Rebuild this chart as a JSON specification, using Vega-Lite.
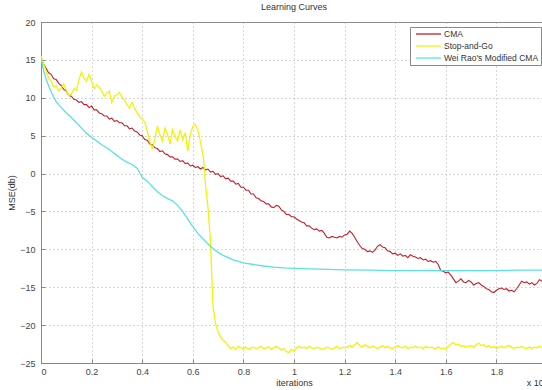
{
  "$schema": "https://vega.github.io/schema/vega-lite/v6.json",
  "width": 506,
  "height": 341,
  "autosize": {"type": "none"},
  "padding": {"left": 41, "top": 22, "right": 0, "bottom": 27},
  "background": "white",
  "title": {"text": "Learning Curves", "fontSize": 9, "fontWeight": "normal", "font": "Liberation Sans", "color": "#333", "offset": 6},
  "datasets": {
    "cma": [
      [0.00,15.3],[0.01,14.5],[0.02,13.9],[0.03,13.3],[0.04,13.1],[0.05,12.5],[0.06,12.4],[0.07,11.9],[0.08,11.6],[0.09,11.1],
      [0.10,10.9],[0.11,10.3],[0.12,10.2],[0.13,9.8],[0.14,9.7],[0.15,9.4],[0.16,9.5],[0.17,9.1],[0.18,9.1],[0.19,8.7],
      [0.20,8.9],[0.21,8.4],[0.22,8.4],[0.23,8.0],[0.24,7.9],[0.25,7.6],[0.26,7.6],[0.27,7.2],[0.28,7.3],[0.29,6.9],
      [0.30,7.0],[0.31,6.7],[0.32,6.7],[0.33,6.3],[0.34,6.3],[0.35,5.9],[0.36,6.0],[0.37,5.6],[0.38,5.5],[0.39,5.1],
      [0.40,5.0],[0.41,4.5],[0.42,4.4],[0.43,3.9],[0.44,3.8],[0.45,3.4],[0.46,3.3],[0.47,2.9],[0.48,3.0],[0.49,2.6],
      [0.50,2.5],[0.51,2.2],[0.52,2.2],[0.53,1.9],[0.54,1.9],[0.55,1.6],[0.56,1.7],[0.57,1.3],[0.58,1.4],[0.59,1.0],
      [0.60,1.1],[0.61,0.8],[0.62,0.9],[0.63,0.6],[0.64,0.8],[0.65,0.5],[0.66,0.6],[0.67,0.2],[0.68,0.3],[0.69,-0.1],
      [0.70,0.0],[0.71,-0.4],[0.72,-0.3],[0.73,-0.7],[0.74,-0.6],[0.75,-1.0],[0.76,-1.0],[0.77,-1.4],[0.78,-1.3],[0.79,-1.8],
      [0.80,-1.8],[0.81,-2.2],[0.82,-2.2],[0.83,-2.7],[0.84,-2.7],[0.85,-3.2],[0.86,-3.3],[0.87,-3.6],[0.88,-3.7],[0.89,-4.0],
      [0.90,-4.0],[0.91,-4.4],[0.92,-4.5],[0.93,-4.2],[0.94,-4.3],[0.95,-4.8],[0.96,-5.0],[0.97,-5.4],[0.98,-5.4],[0.99,-5.7],
      [1.00,-5.7],[1.01,-6.0],[1.02,-6.2],[1.03,-6.4],[1.04,-6.5],[1.05,-6.9],[1.06,-6.9],[1.07,-7.2],[1.08,-7.4],[1.09,-7.3],
      [1.10,-7.6],[1.11,-7.5],[1.12,-7.9],[1.13,-8.4],[1.14,-8.5],[1.15,-8.3],[1.16,-8.4],[1.17,-8.5],[1.18,-8.3],[1.19,-8.4],
      [1.20,-8.1],[1.21,-8.0],[1.22,-7.6],[1.23,-7.9],[1.24,-8.4],[1.25,-9.0],[1.26,-9.5],[1.27,-9.9],[1.28,-10.0],[1.29,-10.3],
      [1.30,-10.2],[1.31,-10.4],[1.32,-10.1],[1.33,-9.6],[1.34,-9.4],[1.35,-9.7],[1.36,-9.8],[1.37,-10.2],[1.38,-10.3],[1.39,-10.6],
      [1.40,-10.5],[1.41,-10.8],[1.42,-10.6],[1.43,-10.9],[1.44,-10.8],[1.45,-11.1],[1.46,-10.7],[1.47,-10.9],[1.48,-11.0],[1.49,-11.2],
      [1.50,-11.1],[1.51,-11.4],[1.52,-11.3],[1.53,-11.6],[1.54,-11.5],[1.55,-11.7],[1.56,-11.6],[1.57,-12.0],[1.58,-12.8],[1.59,-12.9],
      [1.60,-13.1],[1.61,-13.0],[1.62,-13.4],[1.63,-13.9],[1.64,-14.4],[1.65,-14.2],[1.66,-13.9],[1.67,-14.3],[1.68,-14.4],[1.69,-14.1],
      [1.70,-14.3],[1.71,-14.7],[1.72,-14.5],[1.73,-14.4],[1.74,-14.7],[1.75,-14.9],[1.76,-15.2],[1.77,-15.3],[1.78,-15.6],[1.79,-15.7],
      [1.80,-15.4],[1.81,-15.2],[1.82,-15.1],[1.83,-15.3],[1.84,-15.2],[1.85,-15.5],[1.86,-15.4],[1.87,-15.6],[1.88,-15.2],[1.89,-14.7],
      [1.90,-14.2],[1.91,-14.4],[1.92,-14.3],[1.93,-14.6],[1.94,-14.4],[1.95,-14.7],[1.96,-14.5],[1.97,-14.0],[1.98,-14.2],[1.99,-13.9],
      [2.00,-13.8]
    ],
    "sag": [
      [0.00,15.5],[0.01,14.5],[0.02,13.5],[0.03,12.6],[0.04,12.2],[0.05,11.4],[0.06,11.6],[0.07,10.9],[0.08,11.3],[0.09,11.8],
      [0.10,11.0],[0.11,10.3],[0.12,10.5],[0.13,11.2],[0.14,11.0],[0.15,12.4],[0.16,13.4],[0.17,12.6],[0.18,12.2],[0.19,13.1],
      [0.20,12.2],[0.21,11.2],[0.22,11.7],[0.23,11.4],[0.24,10.9],[0.25,10.2],[0.26,10.6],[0.27,10.9],[0.28,9.4],[0.29,10.2],
      [0.30,10.4],[0.31,10.7],[0.32,10.1],[0.33,9.7],[0.34,9.1],[0.35,8.6],[0.36,9.4],[0.37,8.6],[0.38,8.0],[0.39,7.5],
      [0.40,7.2],[0.41,6.8],[0.42,5.6],[0.43,4.2],[0.44,3.3],[0.45,4.5],[0.46,6.3],[0.47,5.1],[0.48,4.3],[0.49,6.0],
      [0.50,5.2],[0.51,3.9],[0.52,5.8],[0.53,4.9],[0.54,4.3],[0.55,5.8],[0.56,4.5],[0.57,5.4],[0.58,3.0],[0.59,5.2],
      [0.60,6.2],[0.61,6.5],[0.62,5.7],[0.63,4.2],[0.64,2.5],[0.645,1.0],[0.65,-1.5],[0.66,-4.5],[0.67,-9.0],[0.675,-13.5],
      [0.68,-17.5],[0.69,-19.8],[0.70,-20.9],[0.71,-21.6],[0.72,-22.0],[0.73,-22.3],[0.74,-22.7],[0.75,-23.1],[0.76,-22.9],[0.77,-23.2],
      [0.78,-22.8],[0.79,-23.0],[0.80,-23.1],[0.81,-22.9],[0.82,-23.2],[0.83,-23.0],[0.84,-22.9],[0.85,-23.1],[0.86,-23.0],[0.87,-22.8],
      [0.88,-23.1],[0.89,-23.0],[0.90,-22.9],[0.91,-23.2],[0.92,-23.0],[0.93,-22.8],[0.94,-23.0],[0.95,-23.3],[0.96,-23.1],[0.97,-23.5],
      [0.98,-23.6],[0.99,-23.2],[1.00,-23.4],[1.01,-23.0],[1.02,-22.8],[1.03,-23.0],[1.04,-22.9],[1.05,-23.1],[1.06,-22.8],[1.07,-23.0],
      [1.08,-23.1],[1.09,-22.9],[1.10,-23.0],[1.11,-23.2],[1.12,-23.1],[1.13,-22.9],[1.14,-23.0],[1.15,-23.2],[1.16,-23.0],[1.17,-22.8],
      [1.18,-23.1],[1.19,-22.9],[1.20,-23.0],[1.21,-22.9],[1.22,-22.7],[1.23,-22.9],[1.24,-22.6],[1.25,-22.3],[1.26,-22.7],[1.27,-22.9],
      [1.28,-22.6],[1.29,-22.8],[1.30,-23.0],[1.31,-22.8],[1.32,-22.9],[1.33,-23.1],[1.34,-22.9],[1.35,-22.7],[1.36,-23.0],[1.37,-22.8],
      [1.38,-23.0],[1.39,-23.1],[1.40,-22.9],[1.41,-22.7],[1.42,-22.9],[1.43,-23.0],[1.44,-22.8],[1.45,-23.1],[1.46,-22.9],[1.47,-23.0],
      [1.48,-22.8],[1.49,-23.0],[1.50,-22.9],[1.51,-23.1],[1.52,-22.8],[1.53,-23.0],[1.54,-22.9],[1.55,-23.0],[1.56,-23.1],[1.57,-22.9],
      [1.58,-23.1],[1.59,-23.0],[1.60,-23.2],[1.61,-22.8],[1.62,-22.5],[1.63,-22.3],[1.64,-22.6],[1.65,-22.5],[1.66,-22.8],[1.67,-22.7],
      [1.68,-22.9],[1.69,-22.8],[1.70,-22.7],[1.71,-22.9],[1.72,-22.6],[1.73,-22.4],[1.74,-22.7],[1.75,-22.6],[1.76,-22.9],[1.77,-22.7],
      [1.78,-23.0],[1.79,-22.8],[1.80,-23.1],[1.81,-22.9],[1.82,-22.8],[1.83,-23.0],[1.84,-22.8],[1.85,-22.7],[1.86,-22.9],[1.87,-23.1],
      [1.88,-22.9],[1.89,-23.0],[1.90,-22.8],[1.91,-23.0],[1.92,-23.1],[1.93,-22.9],[1.94,-23.1],[1.95,-22.9],[1.96,-23.0],[1.97,-22.8],
      [1.98,-23.0],[1.99,-22.9],[2.00,-23.0]
    ],
    "wr": [
      [0.00,15.3],[0.01,13.6],[0.02,12.5],[0.03,11.6],[0.04,10.8],[0.05,10.1],[0.06,9.5],[0.08,8.7],[0.10,8.0],[0.12,7.4],
      [0.14,6.7],[0.16,6.0],[0.18,5.3],[0.20,4.8],[0.22,4.3],[0.24,3.8],[0.26,3.4],[0.28,2.9],[0.30,2.4],[0.32,1.9],
      [0.34,1.5],[0.36,1.2],[0.38,0.7],[0.39,0.1],[0.40,-0.5],[0.42,-1.0],[0.44,-1.7],[0.46,-2.4],[0.48,-2.9],[0.50,-3.3],
      [0.52,-3.6],[0.54,-4.2],[0.56,-5.0],[0.58,-6.0],[0.60,-7.0],[0.62,-7.9],[0.64,-8.6],[0.66,-9.3],[0.68,-9.9],[0.70,-10.4],
      [0.72,-10.8],[0.74,-11.1],[0.76,-11.4],[0.78,-11.6],[0.80,-11.8],[0.84,-12.0],[0.88,-12.2],[0.92,-12.35],[0.96,-12.45],[1.00,-12.5],
      [1.10,-12.6],[1.20,-12.7],[1.30,-12.75],[1.40,-12.8],[1.50,-12.8],[1.60,-12.8],[1.70,-12.8],[1.80,-12.8],[1.90,-12.75],[2.00,-12.75]
    ],
    "note": [{"x": 1.92, "y": -25, "t": "x 10⁴"}]
  },
  "layer": [
    {
      "data": {"name": "cma"},
      "transform": [{"calculate": "datum[0]", "as": "x"}, {"calculate": "datum[1]", "as": "y"}, {"calculate": "'CMA'", "as": "s"}],
      "mark": {"type": "line", "strokeWidth": 1.1, "clip": true},
      "encoding": {
        "x": {"field": "x", "type": "quantitative", "scale": {"domain": [0, 2], "nice": false, "zero": false},
          "axis": {"values": [0, 0.2, 0.4, 0.6, 0.8, 1, 1.2, 1.4, 1.6, 1.8], "tickCount": 20, "format": "~g", "title": "iterations", "labelPadding": 8, "labelOverlap": false}},
        "y": {"field": "y", "type": "quantitative", "scale": {"domain": [-25, 20], "nice": false, "zero": false},
          "axis": {"values": [-25, -20, -15, -10, -5, 0, 5, 10, 15, 20], "tickCount": 20, "format": "d", "title": "MSE(db)", "labelPadding": 10, "titlePadding": 3, "labelOverlap": false}},
        "color": {"field": "s", "type": "nominal",
          "scale": {"domain": ["CMA", "Stop-and-Go", "Wei Rao's Modified CMA"], "range": ["#c0202c", "#f2f20a", "#5ee0e0"]},
          "legend": {"title": null, "orient": "none", "legendX": 369, "legendY": 5,
            "symbolType": "M-0.25,0H6", "symbolSize": 64, "symbolStrokeWidth": 1.3, "labelOffset": 22,
            "labelFont": "Liberation Sans", "labelFontSize": 8.5, "labelColor": "#333", "rowPadding": 2,
            "padding": 2, "fillColor": "white", "strokeColor": "#888"}}
      }
    },
    {
      "data": {"name": "sag"},
      "transform": [{"calculate": "datum[0]", "as": "x"}, {"calculate": "datum[1]", "as": "y"}, {"calculate": "'Stop-and-Go'", "as": "s"}],
      "mark": {"type": "line", "strokeWidth": 1.3, "clip": true},
      "encoding": {
        "x": {"field": "x", "type": "quantitative"},
        "y": {"field": "y", "type": "quantitative"},
        "color": {"field": "s", "type": "nominal"}
      }
    },
    {
      "data": {"name": "wr"},
      "transform": [{"calculate": "datum[0]", "as": "x"}, {"calculate": "datum[1]", "as": "y"}, {"calculate": "'Wei Rao\\'s Modified CMA'", "as": "s"}],
      "mark": {"type": "line", "strokeWidth": 1.3, "clip": true},
      "encoding": {
        "x": {"field": "x", "type": "quantitative"},
        "y": {"field": "y", "type": "quantitative"},
        "color": {"field": "s", "type": "nominal"}
      }
    },
    {
      "data": {"name": "note"},
      "mark": {"type": "text", "align": "left", "baseline": "middle", "dy": 20, "fontSize": 9, "font": "Liberation Sans", "color": "#333"},
      "encoding": {
        "x": {"field": "x", "type": "quantitative"},
        "y": {"field": "y", "type": "quantitative"},
        "text": {"field": "t"}
      }
    }
  ],
  "config": {
    "view": {"stroke": "#888", "strokeWidth": 1},
    "axis": {
      "domainColor": "#888", "tickColor": "#888", "tickSize": -4, "labelOverlap": false,
      "gridColor": "#999", "gridDash": [1, 3], "gridOpacity": 0.8,
      "labelFont": "Liberation Sans", "labelFontSize": 9, "labelColor": "#444",
      "titleFont": "Liberation Sans", "titleFontSize": 9, "titleFontWeight": "normal", "titleColor": "#333"
    },
    "axisX": {"titlePadding": 2}
  }
}
